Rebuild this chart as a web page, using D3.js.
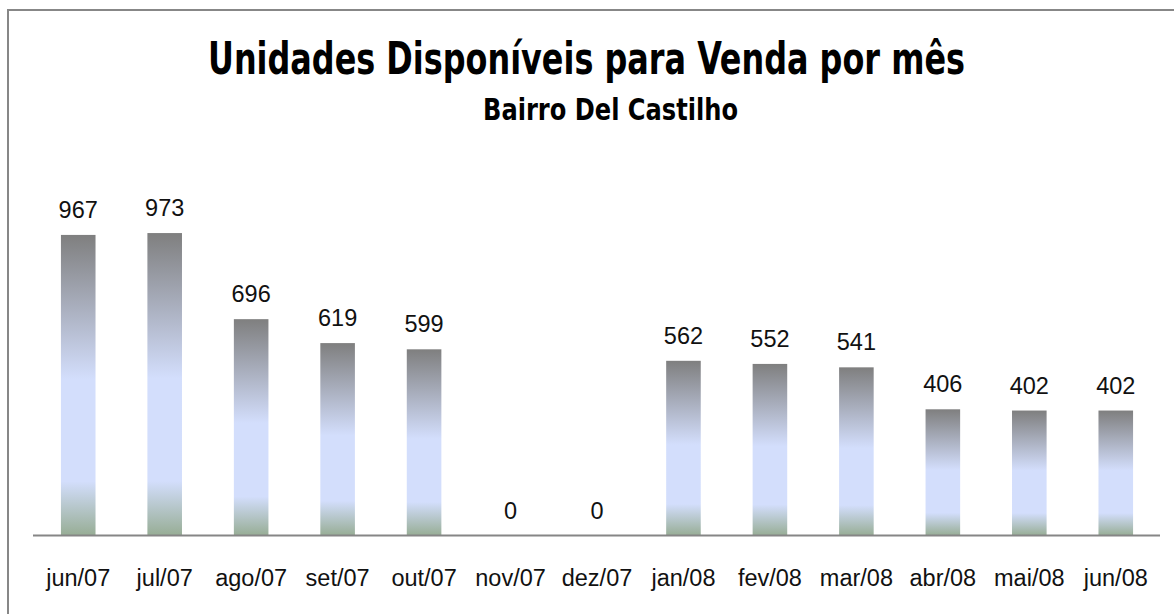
<!DOCTYPE html>
<html>
<head>
<meta charset="utf-8">
<script src="https://cdn.jsdelivr.net/npm/d3@7"></script>
<style>
  body { margin: 0; background: #fff; }
  svg { display: block; }
</style>
</head>
<body>
<svg id="chart" width="1174" height="614"></svg>
<script>
// data
var categories = ["jun/07", "jul/07", "ago/07", "set/07", "out/07", "nov/07", "dez/07",
                  "jan/08", "fev/08", "mar/08", "abr/08", "mai/08", "jun/08"];
var unidades = [967, 973, 696, 619, 599, 0, 0, 562, 552, 541, 406, 402, 402];
var titulo = "Unidades Disponíveis para Venda por mês";
var subtitulo = "Bairro Del Castilho";

document.addEventListener("DOMContentLoaded", function(event) {
  var svg = d3.select("#chart");

  // outer frame (runs off right and bottom edge)
  svg.append("rect")
    .attr("x", 8)
    .attr("y", 10)
    .attr("width", 1200)
    .attr("height", 700)
    .attr("fill", "none")
    .attr("stroke", "#878787")
    .attr("stroke-width", 2);

  // gradient for the bars
  var grad = svg.append("defs").append("linearGradient")
    .attr("id", "barGrad")
    .attr("x1", 0).attr("y1", 0)
    .attr("x2", 0).attr("y2", 1);
  grad.append("stop").attr("offset", "0%").attr("stop-color", "#7f7f7f");
  grad.append("stop").attr("offset", "48%").attr("stop-color", "#d3defc");
  grad.append("stop").attr("offset", "82%").attr("stop-color", "#d3defc");
  grad.append("stop").attr("offset", "100%").attr("stop-color", "#97ad95");

  // scales
  var x = d3.scaleBand()
    .domain(categories)
    .range([35, 1159])
    .paddingInner(0.6)
    .paddingOuter(0.3);

  var y = d3.scaleLinear()
    .domain([0, 1200])
    .range([535.5, 162.5]);

  // bars
  svg.selectAll(".bar")
    .data(unidades)
    .enter()
    .append("rect")
    .attr("class", "bar")
    .attr("x", function(d, i) { return x(categories[i]); })
    .attr("y", function(d) { return y(d); })
    .attr("width", x.bandwidth())
    .attr("height", function(d) { return y(0) - y(d); })
    .attr("fill", "url(#barGrad)");

  // value labels
  svg.selectAll(".valor")
    .data(unidades)
    .enter()
    .append("text")
    .attr("class", "valor")
    .attr("x", function(d, i) { return x(categories[i]) + x.bandwidth() / 2; })
    .attr("y", function(d) { return y(d) - 17; })
    .attr("text-anchor", "middle")
    .style("font-family", "'Liberation Sans', Arial, sans-serif")
    .style("font-size", "23.5px")
    .style("fill", "#111")
    .text(function(d) { return d; });

  // x axis
  var xAxis = svg.append("g")
    .attr("transform", "translate(0," + y(0) + ")")
    .call(d3.axisBottom(x).tickSize(0).tickPadding(34));
  xAxis.select(".domain")
    .attr("d", "M33,0H1160")
    .attr("stroke", "#868686")
    .attr("stroke-width", 2);
  xAxis.selectAll("text")
    .style("font-family", "'Liberation Sans', Arial, sans-serif")
    .style("font-size", "23.5px")
    .style("fill", "#111");

  // titles
  svg.append("text")
    .attr("x", 208)
    .attr("y", 74)
    .attr("textLength", 757)
    .attr("lengthAdjust", "spacingAndGlyphs")
    .style("font-family", "'Liberation Sans Narrow', 'DejaVu Sans Condensed', Arial, sans-serif")
    .style("font-weight", "bold")
    .style("font-size", "45px")
    .style("fill", "#000")
    .text(titulo);

  svg.append("text")
    .attr("x", 483)
    .attr("y", 120)
    .attr("textLength", 255)
    .attr("lengthAdjust", "spacingAndGlyphs")
    .style("font-family", "'Liberation Sans Narrow', 'DejaVu Sans Condensed', Arial, sans-serif")
    .style("font-weight", "bold")
    .style("font-size", "31px")
    .style("fill", "#000")
    .text(subtitulo);
});
</script>
</body>
</html>
